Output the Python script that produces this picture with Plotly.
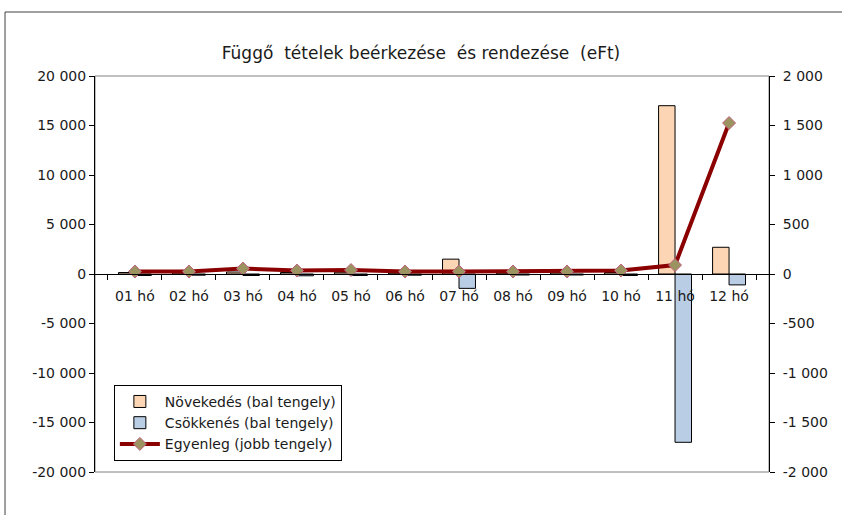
import plotly.graph_objects as go

months = ["01 hó", "02 hó", "03 hó", "04 hó", "05 hó", "06 hó",
          "07 hó", "08 hó", "09 hó", "10 hó", "11 hó", "12 hó"]
novekedes = [150, 120, 200, 150, 180, 100, 1500, 100, 120, 150, 17000, 2700]
csokkenes = [-150, -120, -150, -180, -150, -120, -1450, -100, -100, -150, -17000, -1100]
egyenleg = [25, 25, 55, 35, 40, 25, 25, 25, 25, 35, 90, 1525]

left_ticks = [-20000, -15000, -10000, -5000, 0, 5000, 10000, 15000, 20000]
left_text = ["-20 000", "-15 000", "-10 000", "-5 000", "0", "5 000", "10 000", "15 000", "20 000"]
right_ticks = [-2000, -1500, -1000, -500, 0, 500, 1000, 1500, 2000]
right_text = ["-2 000", "-1 500", "-1 000", "-500", "0", "500", "1 000", "1 500", "2 000"]

font = "DejaVu Sans, Arial, sans-serif"
txt = "#1a1a1a"

fig = go.Figure()
fig.add_trace(go.Bar(x=months, y=novekedes, name="Növekedés (bal tengely)",
                     marker=dict(color="#FCD5B4", line=dict(color="#000000", width=1))))
fig.add_trace(go.Bar(x=months, y=csokkenes, name="Csökkenés (bal tengely)",
                     marker=dict(color="#B9CDE5", line=dict(color="#000000", width=1))))
fig.add_trace(go.Scatter(x=months, y=egyenleg, name="Egyenleg (jobb tengely)", yaxis="y2",
                         mode="lines+markers",
                         line=dict(color="#8B0000", width=4),
                         marker=dict(symbol="diamond", size=10, color="#9C9460",
                                     line=dict(color="#C06080", width=1))))

fig.update_layout(
    width=842, height=515,
    margin=dict(l=95, r=73, t=76, b=43),
    paper_bgcolor="white", plot_bgcolor="white",
    font=dict(family=font, size=14, color=txt),
    title=dict(text="Függő  tételek beérkezése  és rendezése  (eFt)", x=0.5, xanchor="center",
               y=1 - 53 / 515, yanchor="middle", font=dict(size=17, family=font, color=txt)),
    barmode="group", bargap=0.39, bargroupgap=0,
    showlegend=True,
    legend=dict(x=0.028, y=0.22, xanchor="left", yanchor="top",
                bordercolor="#000000", borderwidth=1, bgcolor="white",
                font=dict(size=14, family=font, color=txt), itemwidth=40),
    xaxis=dict(type="category", anchor="free", position=0.5, showline=True,
               linecolor="#000000", linewidth=1, ticks="outside", ticklen=5,
               tickcolor="#000000", tickson="boundaries", showgrid=False,
               ticklabelstandoff=9,
               tickfont=dict(size=14, family=font, color=txt)),
    yaxis=dict(range=[-20000, 20000], tickvals=left_ticks, ticktext=left_text,
               showline=True, linecolor="#000000", ticks="outside", ticklen=5,
               tickcolor="#000000", showgrid=False, zeroline=False,
               tickfont=dict(size=14, family=font, color=txt)),
    yaxis2=dict(range=[-2000, 2000], tickvals=right_ticks, ticktext=right_text,
                overlaying="y", side="right", showline=True, linecolor="#000000",
                ticks="outside", ticklen=5, tickcolor="#000000", showgrid=False,
                zeroline=False, ticklabelstandoff=5,
                tickfont=dict(size=14, family=font, color=txt)),
    shapes=[
        dict(type="rect", xref="paper", yref="paper", x0=0, x1=1, y0=0, y1=1,
             line=dict(color="#808080", width=1), layer="below"),
        dict(type="rect", xref="paper", yref="paper", x0=-0.1335, x1=1.3, y0=-0.3, y1=1.1616,
             line=dict(color="#404040", width=1), layer="below"),
    ],
)

fig.write_html("out.html", config={"displayModeBar": False},
               post_script="document.body.style.margin='0';")
